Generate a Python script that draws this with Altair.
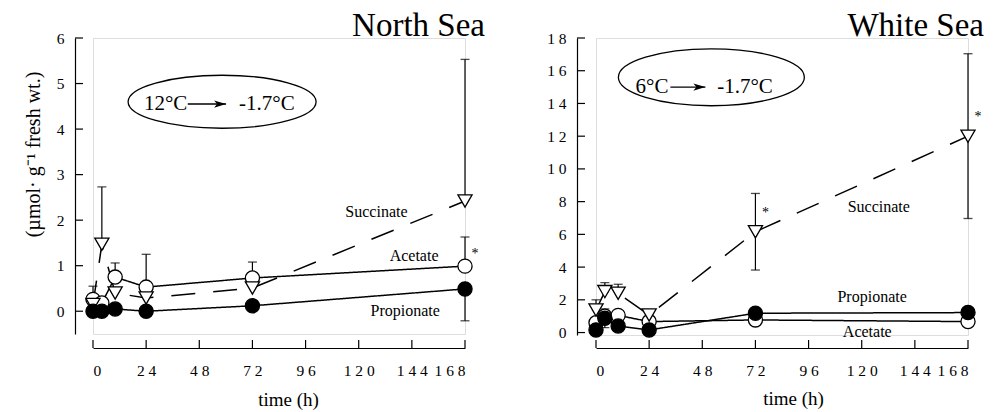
import altair as alt
import pandas as pd

FONT = "Liberation Serif"

# ---------------- data ----------------
times = [0, 4, 10, 24, 72, 168]
series_order = ["Acetate", "Succinate", "Propionate"]

# North Sea (µmol g-1 fresh wt.)
ns_acetate = [0.26, 0.18, 0.75, 0.53, 0.73, 0.99]
ns_acetate_hi = [0.55, None, 1.06, 1.25, 1.08, 1.63]
ns_succinate = [0.15, 1.47, 0.40, 0.29, 0.51, 2.42]
ns_succinate_hi = [None, 2.73, None, None, None, 5.53]
ns_propionate = [0.0, 0.0, 0.05, 0.0, 0.12, 0.49]
ns_propionate_lo = [None, None, None, None, None, -0.21]

# White Sea
ws_acetate = [0.60, 1.00, 1.05, 0.67, 0.77, 0.67]
ws_acetate_hi = [None, 1.45, None, None, None, None]
ws_succinate = [1.38, 2.50, 2.40, 1.07, 6.16, 12.0]
ws_succinate_hi = [2.0, 3.05, 2.95, None, 8.5, 17.04]
ws_succinate_lo = [None, None, None, None, 3.82, 6.97]
ws_propionate = [0.16, 0.87, 0.40, 0.16, 1.18, 1.22]
ws_propionate_lo = [None, 0.30, None, None, None, None]

# annotations (data coordinates)
ns_label_text = ["Succinate", "Acetate", "Propionate"]
ns_label_x = [128, 145, 141]
ns_label_y = [2.18, 1.21, 0.0]
ws_label_text = ["Succinate", "Propionate", "Acetate"]
ws_label_x = [127.7, 124.7, 122.5]
ws_label_y = [7.7, 2.2, 0.06]

ns_star_x = [168]
ns_star_y = [1.25]
ws_star_x = [72, 168]
ws_star_y = [7.28, 13.18]

ns_temp_text = ["12°C", "-1.7°C"]
ns_temp_x = [32.8, 78.5]
ns_temp_y = 4.55
ns_arrow_x = [42.8, 60.1]
ns_ellipse_xy = (58.3, 4.6)

ws_temp_text = ["6°C", "-1.7°C"]
ws_temp_x = [25.3, 67.3]
ws_temp_y = 15.0
ws_arrow_x = [33.6, 49.4]
ws_ellipse_xy = (52.1, 15.6)

x_ticks = [0, 24, 48, 72, 96, 120, 144, 168]
ns_y_ticks = [0, 1, 2, 3, 4, 5, 6]
ws_y_ticks = [0, 2, 4, 6, 8, 10, 12, 14, 16, 18]

W = 372


def long_table(acet, succ, prop):
    rows = []
    for i, (name, vals) in enumerate(zip(series_order, [acet, succ, prop])):
        for t, v in zip(times, vals):
            rows.append({"time": t, "value": v, "series": name, "ord": i})
    return pd.DataFrame(rows)


def err_table(pairs):
    rows = []
    for vals, ends in pairs:
        for t, v, e in zip(times, vals, ends):
            if e is not None:
                rows.append({"time": t, "value": v, "end": e})
    return pd.DataFrame(rows)


def ellipse_path(r):
    return f"M-1,0A1,{r} 0 1,1 1,0A1,{r} 0 1,1 -1,0Z"


ARROW_HEAD = "M-2,-0.6L0,0L-2,0.6L-1.5,0Z"


def panel(title, title_dx, data, err, labels, stars, temp, ell_xy, ell_w, ell_ratio,
          ydom, yticks, H, yoff, xoff, ytitle, yspaced, xtitle_x, xtitle_y):
    xs = alt.Scale(domain=[0, 168], nice=False, zero=False)
    ys = alt.Scale(domain=ydom, nice=False, zero=False)

    spaced = "join(split(datum.label, ''), ' ')"
    xaxis = alt.Axis(values=x_ticks, tickSize=0, domainColor="black", domainWidth=1.2,
                     labelFont=FONT, labelFontSize=15.5, labelColor="black", labelPadding=15,
                     labelExpr=spaced, labelOverlap=False, offset=xoff, title="time (h)",
                     titleFont=FONT, titleFontSize=19, titleFontWeight="normal",
                     titleColor="black", titleX=xtitle_x, titleY=xtitle_y,
                     titleBaseline="top", grid=False)
    yaxis_kw = dict(values=yticks, tickSize=0, domainColor="black", domainWidth=1.2,
                    labelFont=FONT, labelFontSize=15.5, labelColor="black", labelPadding=11,
                    labelOverlap=False, offset=yoff, grid=False)
    if yspaced:
        yaxis_kw["labelExpr"] = spaced
    if ytitle:
        yaxis = alt.Axis(title=ytitle, titleFont=FONT, titleFontSize=20,
                         titleFontWeight="normal", titleColor="black",
                         titleX=-32, titleY=116, titleAngle=270, titleBaseline="bottom",
                         **yaxis_kw)
    else:
        yaxis = alt.Axis(title=None, **yaxis_kw)

    def xq(f):
        return alt.X(f, type="quantitative", scale=xs, axis=xaxis)

    def yq(f):
        return alt.Y(f, type="quantitative", scale=ys, axis=yaxis)

    base = alt.Chart(data)
    lines = base.mark_line(strokeWidth=1.5, color="black").encode(
        x=xq("time"), y=yq("value"),
        detail="series:N",
        strokeDash=alt.StrokeDash("series:N", scale=alt.Scale(domain=series_order,
                                  range=[[1, 0], [24, 18], [1, 0]]), legend=None),
    )
    errdf = alt.Chart(err)
    rules = errdf.mark_rule(color="black", strokeWidth=1.2).encode(
        x=xq("time"), y=yq("value"), y2="end:Q")
    caps = errdf.mark_tick(orient="horizontal", color="black", thickness=1.3, size=9).encode(
        x=xq("time"), y=yq("end"))
    pts = base.mark_point(size=200, strokeWidth=1.3, opacity=1, stroke="black", filled=False).encode(
        x=xq("time"), y=yq("value"),
        shape=alt.Shape("series:N", scale=alt.Scale(domain=series_order,
                        range=["circle", "triangle-down", "circle"]), legend=None),
        fill=alt.Fill("series:N", scale=alt.Scale(domain=series_order,
                      range=["white", "white", "black"]), legend=None),
        order=alt.Order("ord:Q"),
    )

    lab_df = pd.DataFrame({"x": labels[0], "y": labels[1], "t": labels[2]})
    labs = alt.Chart(lab_df).mark_text(font=FONT, fontSize=16, color="black").encode(
        x=xq("x"), y=yq("y"), text="t:N")

    star_df = pd.DataFrame({"x": stars[0], "y": stars[1], "t": ["*"] * len(stars[0])})
    st = alt.Chart(star_df).mark_text(font=FONT, fontSize=14, color="black", dx=10).encode(
        x=xq("x"), y=yq("y"), text="t:N")

    ell_df = pd.DataFrame({"x": [ell_xy[0]], "y": [ell_xy[1]]})
    ell = alt.Chart(ell_df).mark_point(shape=ellipse_path(ell_ratio), size=ell_w ** 2, filled=False,
                                       stroke="black", strokeWidth=1.3, opacity=1).encode(
        x=xq("x"), y=yq("y"))

    t_text, t_x, t_y, a_x = temp
    tmp_df = pd.DataFrame({"x": t_x, "y": [t_y] * len(t_x), "t": t_text})
    tmp = alt.Chart(tmp_df).mark_text(font=FONT, fontSize=21, color="black").encode(
        x=xq("x"), y=yq("y"), text="t:N")
    arr_df = pd.DataFrame({"x": [a_x[0]], "x2": [a_x[1]], "y": [t_y]})
    arr_line = alt.Chart(arr_df).mark_rule(color="black", strokeWidth=1.4).encode(
        x=xq("x"), x2="x2:Q", y=yq("y"))
    arr_head = alt.Chart(arr_df).mark_point(shape=ARROW_HEAD, size=144, filled=True,
                                            color="black", opacity=1).encode(
        x=xq("x2"), y=yq("y"))

    yt_df = pd.DataFrame({"v": yticks})
    ytk = alt.Chart(yt_df).mark_rule(color="black", strokeWidth=1.2).encode(
        y=yq("v"), x=alt.value(-yoff), x2=alt.value(-yoff + 8))
    xt_df = pd.DataFrame({"v": x_ticks})
    xtk = alt.Chart(xt_df).mark_rule(color="black", strokeWidth=1.2).encode(
        x=xq("v"), y=alt.value(H + xoff), y2=alt.value(H + xoff - 8))

    ttl = alt.Chart(pd.DataFrame({"t": [title]})).mark_text(
        font=FONT, fontSize=33, color="black", align="right", baseline="alphabetic").encode(
        x=alt.value(W + title_dx), y=alt.value(-2.5), text="t:N")

    return alt.layer(lines, rules, caps, pts, labs, st, ell, tmp, arr_line, arr_head,
                     ytk, xtk, ttl).properties(width=W, height=H)


ns = long_table(ns_acetate, ns_succinate, ns_propionate)
ws = long_table(ws_acetate, ws_succinate, ws_propionate)

ns_err = err_table([(ns_acetate, ns_acetate_hi), (ns_succinate, ns_succinate_hi),
                    (ns_propionate, ns_propionate_lo)])
ws_err = err_table([(ws_acetate, ws_acetate_hi), (ws_succinate, ws_succinate_hi),
                    (ws_succinate, ws_succinate_lo), (ws_propionate, ws_propionate_lo)])

left = panel("North Sea", 20, ns, ns_err, (ns_label_x, ns_label_y, ns_label_text),
             (ns_star_x, ns_star_y), (ns_temp_text, ns_temp_x, ns_temp_y, ns_arrow_x),
             ns_ellipse_xy, 188, 0.282,
             [-0.5, 6], ns_y_ticks, 296, 18, 14, "(µmol· g⁻¹ fresh wt.)", False, 195, 42)
right = panel("White Sea", 16, ws, ws_err, (ws_label_x, ws_label_y, ws_label_text),
              (ws_star_x, ws_star_y), (ws_temp_text, ws_temp_x, ws_temp_y, ws_arrow_x),
              ws_ellipse_xy, 186, 0.306,
              [-0.15, 18], ws_y_ticks, 297, 19, 13, None, True, 197, 41)

chart = alt.hconcat(left, right, spacing=60).properties(
    padding={"left": 22, "top": 9, "right": 2, "bottom": 0}
).configure_view(stroke=None).configure(background="white")

chart.save("out.html", embed_options={"renderer": "svg", "actions": False})
